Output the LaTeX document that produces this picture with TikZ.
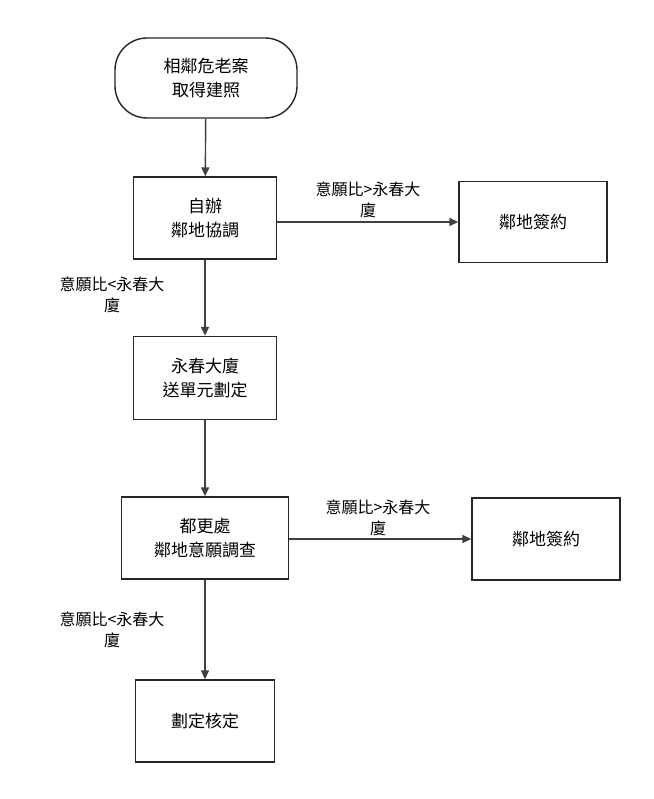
\documentclass[tikz,border=0pt]{standalone}
\usepackage{fontspec}
\setmainfont{Noto Sans CJK TC}
\usetikzlibrary{arrows.meta}
\begin{document}
\begin{tikzpicture}[x=1pt,y=-1pt,
  box/.style={draw=black!85,line width=1.4pt,fill=white,align=center,inner sep=0pt,font=\fontsize{17}{24}\selectfont},
  lab/.style={align=center,font=\fontsize{16}{21}\selectfont,fill=white,inner sep=1pt},
  arr/.style={draw=black!75,line width=1.4pt,-{Triangle[length=9pt,width=8pt]}}]
\useasboundingbox (0,0) rectangle (653,799);
\node[box,minimum width=182pt,minimum height=80pt,rounded corners=32pt] (s) at (206,78) {相鄰危老案\\取得建照};
\node[box,minimum width=143pt,minimum height=82pt] (a) at (205,218) {自辦\\鄰地協調};
\node[box,minimum width=148pt,minimum height=81pt] (r1) at (533,222) {鄰地簽約};
\node[box,minimum width=143pt,minimum height=83pt] (b) at (205,378) {永春大廈\\送單元劃定};
\node[box,minimum width=167pt,minimum height=82pt] (c) at (205,538) {都更處\\鄰地意願調查};
\node[box,minimum width=148pt,minimum height=82pt] (r2) at (546,539) {鄰地簽約};
\node[box,minimum width=139pt,minimum height=82pt] (d) at (205,721) {劃定核定};
\draw[arr] (s) -- (a);
\draw[arr] (a.east |- r1) -- (r1);
\draw[arr] (a) -- (b);
\draw[arr] (b) -- (c);
\draw[arr] (c.east |- r2) -- (r2);
\draw[arr] (c) -- (d);
\node[lab] (l1) at (368,200) {意願比>永春大\\廈};
\node[lab] (l2) at (112,295) {意願比<永春大\\廈};
\node[lab] (l3) at (378,518) {意願比>永春大\\廈};
\node[lab] (l4) at (112,630) {意願比<永春大\\廈};
\end{tikzpicture}
\end{document}
